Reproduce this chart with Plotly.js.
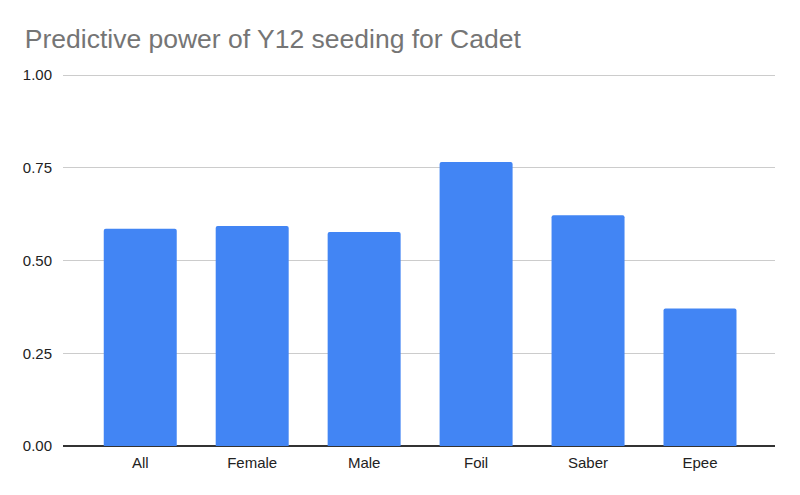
<!DOCTYPE html>
<html>
<head>
<meta charset="utf-8">
<script src="https://cdn.plot.ly/plotly-3.0.1.min.js"></script>
<style>
  html, body { margin: 0; padding: 0; background: #fff; }
  #chart { width: 800px; height: 495px; }
</style>
</head>
<body>
<div id="chart"></div>
<script>
// values
var categories = ["All", "Female", "Male", "Foil", "Saber", "Epee"];
var power = [0.586, 0.593, 0.577, 0.766, 0.622, 0.371];
var yTicks = [0, 0.25, 0.5, 0.75, 1];
var yTickText = ["0.00", "0.25", "0.50", "0.75", "1.00"];

window.onload = function() {
  var trace = {
    type: "bar",
    x: categories,
    y: power,
    marker: { color: "#4285F4" },
    hoverinfo: "x+y"
  };

  var layout = {
    width: 800,
    height: 495,
    margin: { l: 63, r: 25, t: 74, b: 49 },
    paper_bgcolor: "#fff",
    plot_bgcolor: "#fff",
    font: { family: "Liberation Sans, Arial, sans-serif", size: 15, color: "#222" },
    title: {
      text: "Predictive power of Y12 seeding for Cadet",
      font: { size: 26.5, color: "#757575" },
      x: 0.031,
      xanchor: "left",
      y: 0.922,
      yanchor: "middle"
    },
    bargap: 0.348,
    barcornerradius: 2,
    xaxis: {
      type: "category",
      range: [-0.69, 5.67],
      showgrid: false,
      showline: false,
      zeroline: false,
      ticks: "",
      ticklabelstandoff: 6,
      tickfont: { size: 15, color: "#222" }
    },
    yaxis: {
      range: [0, 1.003],
      tickvals: yTicks,
      ticktext: yTickText,
      showgrid: true,
      gridcolor: "#cccccc",
      gridwidth: 1,
      zeroline: true,
      zerolinecolor: "#333",
      zerolinewidth: 1.5,
      showline: false,
      ticks: "",
      ticklabelstandoff: 10,
      tickfont: { size: 15, color: "#222" }
    },
    showlegend: false
  };

  Plotly.newPlot("chart", [trace], layout, { displayModeBar: false, staticPlot: true });
};
</script>
</body>
</html>
